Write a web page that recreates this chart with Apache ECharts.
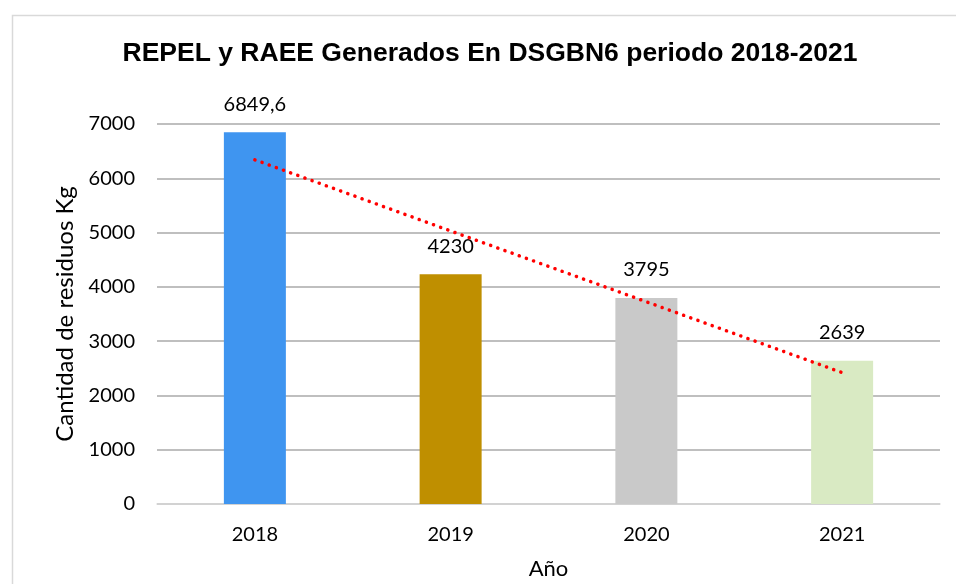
<!DOCTYPE html>
<html>
<head>
<meta charset="utf-8">
<script src="https://cdn.jsdelivr.net/npm/echarts@6/dist/echarts.min.js"></script>
<style>
    html, body { margin:0; padding:0; background:#fff; }
    #main { width:956px; height:584px; }
</style>
</head>
<body>
<div id="main"></div>
<script>
// datos
var years = ['2018', '2019', '2020', '2021'];
var residuos = [6849.6, 4230, 3795, 2639];
var barColors = ['#3F95F0', '#BF8F00', '#C9C9C9', '#D9EAC3'];
// linea de tendencia
var tendencia = [6340, 5030, 3725, 2420];
var yTicks = [0, 1000, 2000, 3000, 4000, 5000, 6000, 7000];

var labelFont = 'Lato, "Open Sans", sans-serif';

var option = {
    backgroundColor: '#fff',
    animation: false,
    title: {
        text: 'REPEL y RAEE Generados En DSGBN6 periodo 2018-2021',
        left: 485, top: 35, textAlign: 'center',
        textStyle: { fontFamily: '"Liberation Sans", Arial, sans-serif', fontWeight: 'bold', fontSize: 26.5, color: '#000' }
    },
    graphic: [{
        type: 'rect', left: 10, top: 13, z: -1,
        shape: { width: 960, height: 600 },
        style: { fill: 'none', stroke: '#d9d9d9', lineWidth: 1.5 }
    }],
    grid: { left: 157, right: 16, top: 124, bottom: 80, outerBoundsMode: 'none' },
    xAxis: {
        type: 'category',
        data: years,
        name: 'Año',
        nameLocation: 'middle',
        nameGap: 54,
        nameTextStyle: { fontFamily: labelFont, fontSize: 22, color: '#000' },
        axisLine: { lineStyle: { color: '#d9d9d9', width: 1.5 } },
        axisTick: { show: false },
        axisLabel: { fontFamily: labelFont, fontSize: 20, color: '#000', margin: 21 }
    },
    yAxis: {
        type: 'value',
        min: 0, max: 7000, interval: 1000,
        name: 'Cantidad de residuos Kg',
        nameLocation: 'middle',
        nameGap: 78,
        nameTextStyle: { fontFamily: labelFont, fontSize: 24, color: '#000' },
        axisLine: { show: false },
        axisTick: { show: false },
        splitLine: { lineStyle: { color: '#aaaaaa', width: 1.5 } },
        axisLabel: {
            fontFamily: labelFont, fontSize: 20, color: '#000', margin: 22,
            formatter: function (v) { return yTicks.indexOf(v) >= 0 ? String(v) : ''; }
        }
    },
    series: [
        {
            type: 'bar',
            barWidth: 62,
            data: residuos.map(function (v, i) {
                return { value: v, itemStyle: { color: barColors[i] } };
            }),
            label: {
                show: true, position: 'top', distance: 18,
                fontFamily: labelFont, fontSize: 20, color: '#000',
                formatter: function (p) { return String(p.value).replace('.', ','); }
            }
        },
        {
            type: 'line',
            data: tendencia,
            symbol: 'none',
            silent: true,
            z: 5,
            lineStyle: { color: '#FF0000', width: 3.5, type: [0.1, 7.5], cap: 'round' }
        }
    ]
};

var chart = echarts.init(document.getElementById('main'));
chart.setOption(option);
</script>
</body>
</html>
